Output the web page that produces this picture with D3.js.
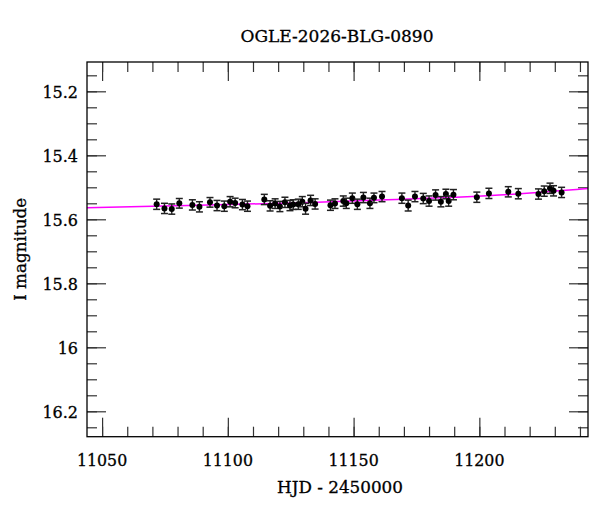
<!DOCTYPE html>
<html>
<head>
<meta charset="utf-8">
<script src="https://cdn.jsdelivr.net/npm/d3@7"></script>
<style>
  body { margin: 0; background: #fff; }
  svg { display: block; font-family: "DejaVu Serif", serif; }
  svg text { stroke: #000; stroke-width: 0.3px; }
</style>
</head>
<body>
<div id="chart"></div>
<script>
var hjd = [11071.7, 11074.8, 11077.7, 11080.7, 11085.9, 11088.7, 11092.9, 11095.7, 11098.6, 11100.9,
           11102.9, 11105.8, 11107.8, 11114.5, 11116.8, 11118.8, 11120.7, 11122.7, 11124.7, 11126.0,
           11128.0, 11129.6, 11130.9, 11132.9, 11134.7, 11140.8, 11142.6, 11145.9, 11147.1, 11149.5,
           11151.5, 11153.9, 11156.5, 11158.1, 11161.3, 11169.2, 11171.7, 11174.4, 11177.7, 11180.0,
           11182.6, 11184.7, 11186.7, 11187.8, 11189.7, 11199.0, 11203.8, 11211.5, 11215.5, 11223.5,
           11225.8, 11228.1, 11229.5, 11232.7];
var mag = [15.553, 15.566, 15.568, 15.550, 15.555, 15.561, 15.547, 15.557, 15.559, 15.545,
           15.549, 15.554, 15.559, 15.538, 15.558, 15.551, 15.560, 15.547, 15.557, 15.554,
           15.553, 15.545, 15.567, 15.541, 15.552, 15.556, 15.551, 15.543, 15.550, 15.534,
           15.553, 15.532, 15.550, 15.533, 15.529, 15.534, 15.557, 15.529, 15.535, 15.543,
           15.524, 15.545, 15.521, 15.543, 15.523, 15.531, 15.519, 15.514, 15.520, 15.521,
           15.512, 15.503, 15.511, 15.516];
var magErr = [0.016, 0.016, 0.016, 0.015, 0.016, 0.016, 0.015, 0.016, 0.016, 0.016,
              0.015, 0.016, 0.016, 0.016, 0.016, 0.015, 0.016, 0.016, 0.016, 0.015,
              0.016, 0.016, 0.017, 0.016, 0.016, 0.016, 0.015, 0.016, 0.016, 0.016,
              0.016, 0.016, 0.016, 0.015, 0.016, 0.016, 0.017, 0.016, 0.016, 0.016,
              0.016, 0.016, 0.015, 0.016, 0.016, 0.016, 0.016, 0.016, 0.016, 0.016,
              0.016, 0.016, 0.016, 0.016];

// model curve
var modelHjd = [11044, 11070, 11100, 11130, 11160, 11190, 11215, 11243.2];
var modelMag = [15.564, 15.559, 15.554, 15.548, 15.540, 15.531, 15.521, 15.504];

var xTicks = [11050, 11100, 11150, 11200];
var xMinor = d3.range(11050, 11241, 10);
var yTicks = [15.2, 15.4, 15.6, 15.8, 16, 16.2];
var yTickLabels = ["15.2", "15.4", "15.6", "15.8", "16", "16.2"];
var yMinor = d3.range(15.15, 16.26, 0.05);

var width = 600, height = 512;
var margin = {top: 62, right: 12, bottom: 75.3, left: 87};
var w = width - margin.left - margin.right;
var h = height - margin.top - margin.bottom;

var svg = d3.select("#chart").append("svg")
            .attr("width", width)
            .attr("height", height);

var g = svg.append("g")
           .attr("transform", "translate(" + margin.left + "," + margin.top + ")");

var x = d3.scaleLinear().domain([11044, 11243.2]).range([0, w]);
var y = d3.scaleLinear().domain([15.1084, 16.2794]).range([0, h]);

var tickColor = "#333";

function styleAxis(sel) {
  sel.select(".domain").remove();
  sel.selectAll(".tick line").attr("stroke", tickColor).attr("stroke-width", 1.2);
}

// ticks on all four sides, pointing inward
g.append("g").attr("transform", "translate(0," + h + ")")
  .call(d3.axisBottom(x).tickValues(xMinor).tickSize(-10).tickFormat(""))
  .call(styleAxis);
g.append("g").attr("transform", "translate(0," + h + ")")
  .call(d3.axisBottom(x).tickValues(xTicks).tickSize(-19).tickFormat(""))
  .call(styleAxis);
g.append("g")
  .call(d3.axisTop(x).tickValues(xMinor).tickSize(-10).tickFormat(""))
  .call(styleAxis);
g.append("g")
  .call(d3.axisTop(x).tickValues(xTicks).tickSize(-19).tickFormat(""))
  .call(styleAxis);

g.append("g")
  .call(d3.axisLeft(y).tickValues(yMinor).tickSize(-10).tickFormat(""))
  .call(styleAxis);
g.append("g")
  .call(d3.axisLeft(y).tickValues(yTicks).tickSize(-19).tickFormat(""))
  .call(styleAxis);
g.append("g").attr("transform", "translate(" + w + ",0)")
  .call(d3.axisRight(y).tickValues(yMinor).tickSize(-10).tickFormat(""))
  .call(styleAxis);
g.append("g").attr("transform", "translate(" + w + ",0)")
  .call(d3.axisRight(y).tickValues(yTicks).tickSize(-19).tickFormat(""))
  .call(styleAxis);

// tick labels
g.selectAll(".xlab").data(xTicks).enter().append("text")
  .attr("x", function(d) { return x(d); })
  .attr("y", h + 29.5)
  .attr("text-anchor", "middle")
  .attr("font-size", "15.8px")
  .attr("fill", "#000")
  .text(function(d) { return d; });

g.selectAll(".ylab").data(yTicks).enter().append("text")
  .attr("x", -9)
  .attr("y", function(d) { return y(d); })
  .attr("dy", "0.4em")
  .attr("text-anchor", "end")
  .attr("font-size", "16px")
  .attr("fill", "#000")
  .text(function(d, i) { return yTickLabels[i]; });

// clip for model line
svg.append("clipPath").attr("id", "clip")
  .append("rect").attr("width", w).attr("height", h);

var model = modelHjd.map(function(d, i) { return [d, modelMag[i]]; });
g.append("path")
  .datum(model)
  .attr("clip-path", "url(#clip)")
  .attr("fill", "none")
  .attr("stroke", "#ff00ff")
  .attr("stroke-width", 1.5)
  .attr("d", d3.line()
    .curve(d3.curveMonotoneX)
    .x(function(d) { return x(d[0]); })
    .y(function(d) { return y(d[1]); }));

// data points with error bars
var pts = hjd.map(function(d, i) { return {t: d, m: mag[i], e: magErr[i]}; });

var pt = g.selectAll(".pt").data(pts).enter().append("g").attr("class", "pt");

pt.append("line")
  .attr("x1", function(d) { return x(d.t); })
  .attr("x2", function(d) { return x(d.t); })
  .attr("y1", function(d) { return y(d.m - d.e); })
  .attr("y2", function(d) { return y(d.m + d.e); })
  .attr("stroke", "#222").attr("stroke-width", 1.4);

[-1, 1].forEach(function(s) {
  pt.append("line")
    .attr("x1", function(d) { return x(d.t) - 3.5; })
    .attr("x2", function(d) { return x(d.t) + 3.5; })
    .attr("y1", function(d) { return y(d.m + s * d.e); })
    .attr("y2", function(d) { return y(d.m + s * d.e); })
    .attr("stroke", "#222").attr("stroke-width", 1.5);
});

pt.append("circle")
  .attr("cx", function(d) { return x(d.t); })
  .attr("cy", function(d) { return y(d.m); })
  .attr("r", 3)
  .attr("fill", "#000");

// frame
g.append("rect")
  .attr("width", w).attr("height", h)
  .attr("fill", "none")
  .attr("stroke", "#000")
  .attr("stroke-width", 1.3);

// titles
svg.append("text")
  .attr("x", 337).attr("y", 41.5)
  .attr("text-anchor", "middle")
  .attr("font-size", "17px")
  .text("OGLE-2026-BLG-0890");

svg.append("text")
  .attr("x", 340).attr("y", 493)
  .attr("text-anchor", "middle")
  .attr("font-size", "16.8px")
  .text("HJD - 2450000");

svg.append("text")
  .attr("transform", "translate(25.5," + (margin.top + h / 2) + ") rotate(-90)")
  .attr("text-anchor", "middle")
  .attr("font-size", "16.8px")
  .text("I magnitude");
</script>
</body>
</html>
